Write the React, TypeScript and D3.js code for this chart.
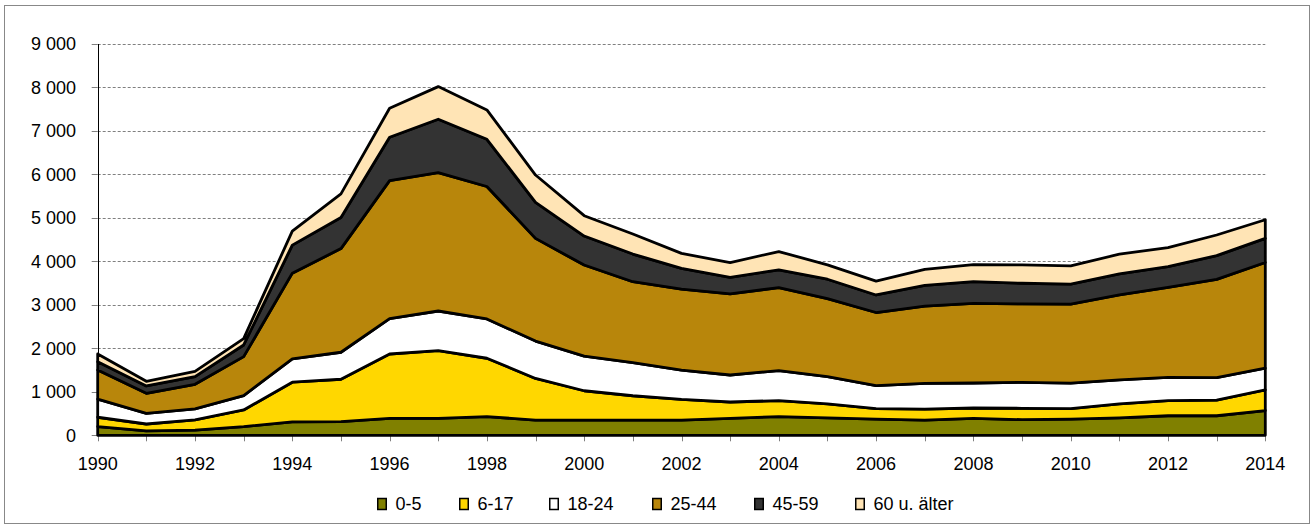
import React, { useEffect, useRef } from "react";
import * as d3 from "d3";

const years = [1990,1991,1992,1993,1994,1995,1996,1997,1998,1999,2000,2001,2002,2003,2004,2005,2006,2007,2008,2009,2010,2011,2012,2013,2014];
const seriesNames = ["0-5", "6-17", "18-24", "25-44", "45-59", "60 u. älter"];
const age0to5 = [200,100,120,200,310,315,390,390,430,350,350,350,350,390,430,400,370,350,390,360,370,400,450,450,570];
const age6to17 = [215,160,233,383,912,974,1480,1557,1342,958,675,560,475,376,369,322,245,253,238,261,245,322,346,361,476];
const age18to24 = [415,246,253,330,537,621,813,912,905,859,797,759,675,621,690,629,527,590,575,598,583,552,536,514,498];
const age25to44 = [670,460,567,897,1971,2385,3175,3183,3045,2362,2094,1863,1864,1864,1909,1794,1682,1779,1833,1802,1818,1955,2071,2262,2431];
const age45to59 = [190,169,177,268,644,714,997,1227,1086,828,667,637,475,383,407,445,403,476,498,476,460,484,475,544,553];
const age60plus = [180,107,122,146,322,544,667,751,675,629,468,460,345,337,421,330,318,368,391,422,422,452,437,476,429];
const yTicks = [0,1000,2000,3000,4000,5000,6000,7000,8000,9000];
const xLabelYears = [1990,1992,1994,1996,1998,2000,2002,2004,2006,2008,2010,2012,2014];

const colors = ["#808000", "#FFD700", "#FFFFFF", "#B8860B", "#333333", "#FFE4B5"];
const legendX = [377, 459, 549, 652, 754, 855];

export default function App() {
  const ref = useRef<SVGSVGElement | null>(null);

  useEffect(() => {
    const svg = d3.select(ref.current);
    svg.selectAll("*").remove();
    const W = 1312, H = 528;
    const font = "'Liberation Sans', Arial, sans-serif";
    const fs = 18;

    svg.append("rect").attr("x", 0).attr("y", 0).attr("width", W).attr("height", H).attr("fill", "#fff");
    svg.append("rect").attr("x", 4.5).attr("y", 5.5).attr("width", 1305).attr("height", 518)
      .attr("fill", "none").attr("stroke", "#888").attr("stroke-width", 1);

    const x = d3.scaleLinear().domain([1990, 2014]).range([97.7, 1265.3]);
    const y = d3.scaleLinear().domain([0, 9000]).range([435.3, 44]);

    // gridlines
    svg.append("g").selectAll("line").data(yTicks.filter(t => t > 0)).join("line")
      .attr("x1", x(1990)).attr("x2", x(2014))
      .attr("y1", d => Math.round(y(d)) + 0.5).attr("y2", d => Math.round(y(d)) + 0.5)
      .attr("stroke", "#808080").attr("stroke-width", 1).attr("stroke-dasharray", "3,2");

    // y ticks & labels
    const fmt = (n: number) => n === 0 ? "0" : `${Math.floor(n / 1000)} 000`;
    svg.append("g").selectAll("line").data(yTicks).join("line")
      .attr("x1", x(1990) - 6).attr("x2", x(1990))
      .attr("y1", d => Math.round(y(d)) + 0.5).attr("y2", d => Math.round(y(d)) + 0.5)
      .attr("stroke", "#808080").attr("stroke-width", 1);
    svg.append("g").selectAll("text").data(yTicks).join("text")
      .attr("x", 76).attr("y", d => y(d) + 6.4)
      .attr("text-anchor", "end").attr("font-family", font).attr("font-size", fs).attr("fill", "#000")
      .text(d => fmt(d));

    // x ticks & labels
    svg.append("g").selectAll("line").data(years).join("line")
      .attr("x1", d => Math.round(x(d)) + 0.5).attr("x2", d => Math.round(x(d)) + 0.5)
      .attr("y1", y(0)).attr("y2", y(0) + 6)
      .attr("stroke", "#808080").attr("stroke-width", 1);
    svg.append("g").selectAll("text").data(xLabelYears).join("text")
      .attr("x", d => x(d)).attr("y", 469.5)
      .attr("text-anchor", "middle").attr("font-family", font).attr("font-size", fs).attr("fill", "#000")
      .text(d => String(d));

    // stacked areas
    const allSeries = [age0to5, age6to17, age18to24, age25to44, age45to59, age60plus];
    const table = years.map((yr, i) => {
      const row: any = { year: yr };
      seriesNames.forEach((n, k) => { row[n] = allSeries[k][i]; });
      return row;
    });
    const stack = d3.stack().keys(seriesNames)(table as any);
    const area = d3.area<any>()
      .x(d => x(d.data.year))
      .y0(d => y(d[0]))
      .y1(d => y(d[1]));
    const g = svg.append("g");
    stack.forEach((s, k) => {
      g.append("path").attr("d", area(s as any) as string + "Z")
        .attr("fill", colors[k]).attr("stroke", "#000").attr("stroke-width", 2.8)
        .attr("stroke-linejoin", "round");
    });

    // y axis line
    svg.append("line").attr("x1", Math.round(x(1990)) + 0.5).attr("x2", Math.round(x(1990)) + 0.5)
      .attr("y1", y(9000)).attr("y2", y(0)).attr("stroke", "#000").attr("stroke-width", 1);

    // legend
    const lg = svg.append("g");
    seriesNames.forEach((n, k) => {
      lg.append("rect").attr("x", legendX[k] + 0.75).attr("y", 498.5).attr("width", 8.5).attr("height", 11)
        .attr("fill", colors[k]).attr("stroke", "#000").attr("stroke-width", 1.5);
      lg.append("text").attr("x", legendX[k] + 18.5).attr("y", 510)
        .attr("font-family", font).attr("font-size", fs).attr("fill", "#000").text(n);
    });
  }, []);

  return (
    <svg ref={ref} width={1312} height={528} style={{ position: "absolute", left: 0, top: 0, display: "block" }} />
  );
}
